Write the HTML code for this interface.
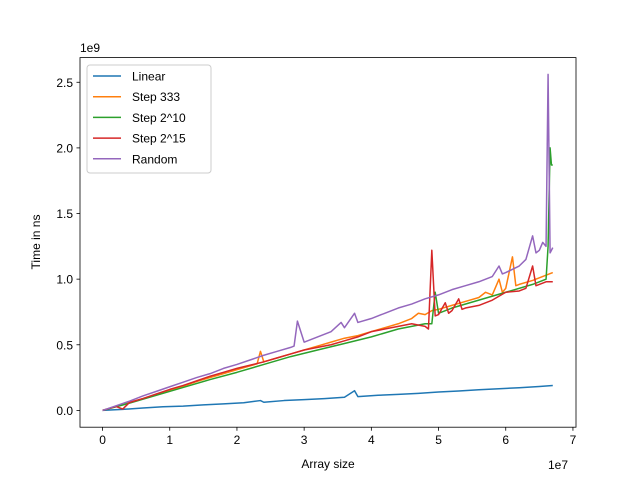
<!DOCTYPE html>
<html><head><meta charset="utf-8"><style>
body{margin:0;background:#fff}
svg{font-family:"Liberation Sans","DejaVu Sans",sans-serif}
</style></head><body>
<svg id="c" width="640" height="480" xmlns="http://www.w3.org/2000/svg">
<rect width="640" height="480" fill="#fff"/>
<g id="marks"></g>
<rect x="80" y="57.6" width="496" height="369.6" fill="none" stroke="#000" stroke-width="0.8"/>
<g id="axes" font-size="12"></g>
<text x="80" y="52" font-size="12">1e9</text>
<text x="548" y="469" font-size="12">1e7</text>
<text x="328" y="468" font-size="12" text-anchor="middle">Array size</text>
<text transform="translate(40,242) rotate(-90)" font-size="12" text-anchor="middle">Time in ns</text>
<g id="legend">
<rect x="87" y="65" width="124" height="108" rx="3" fill="#fff" fill-opacity="0.8" stroke="#ccc" stroke-width="1"/>
</g>
</svg>
<script>
const xTicks=[0,1,2,3,4,5,6,7];
const yTicks=[0,0.5,1.0,1.5,2.0,2.5];
const yTickLabels=["0.0","0.5","1.0","1.5","2.0","2.5"];
const seriesNames=["Linear","Step 333","Step 2^10","Step 2^15","Random"];
const colors=["#1f77b4","#ff7f0e","#2ca02c","#d62728","#9467bd"];
const linearX=[0,3,6,9,12,15,18,21,23.5,24,27,30,33,36,37.5,38,41,44,47,50,53,56,59,62,65,67];
const linearY=[0,0.008,0.018,0.028,0.033,0.042,0.05,0.058,0.075,0.062,0.075,0.082,0.09,0.1,0.15,0.105,0.115,0.122,0.13,0.14,0.148,0.157,0.165,0.173,0.182,0.19];
const step333X=[0,2,4,6,8,10,12,14,16,18,20,22,23,23.5,24,26,28,30,32,34,36,38,40,42,44,46,47,48,49,50,52,54,56,57,58,59,59.5,60,61,61.5,62,64,66,67];
const step333Y=[0,0.03,0.06,0.09,0.12,0.155,0.185,0.22,0.25,0.28,0.31,0.34,0.355,0.45,0.37,0.4,0.43,0.46,0.49,0.52,0.55,0.57,0.6,0.63,0.66,0.7,0.74,0.73,0.76,0.77,0.8,0.83,0.86,0.9,0.88,1.0,0.9,0.93,1.17,0.95,0.96,0.99,1.03,1.05];
const step1024X=[0,4,8,12,16,20,24,28,32,36,40,44,48,49,49.5,50,52,56,60,64,66,66.3,66.6,66.8,67];
const step1024Y=[0,0.055,0.115,0.175,0.235,0.29,0.35,0.41,0.46,0.51,0.56,0.62,0.66,0.66,0.9,0.74,0.78,0.84,0.9,0.96,1.0,1.25,2.0,1.87,1.87];
const step32768X=[0,2,3,4,6,8,10,12,14,16,18,20,22,24,26,28,30,32,34,36,38,40,42,44,46,48,48.5,49,49.5,50,51,51.5,52,53,53.5,54,56,58,60,62,63,64,64.5,65,66,67];
const step32768Y=[0,0.03,0.01,0.06,0.09,0.125,0.16,0.19,0.225,0.26,0.29,0.32,0.345,0.37,0.4,0.43,0.46,0.48,0.5,0.53,0.56,0.6,0.62,0.64,0.66,0.64,0.62,1.22,0.72,0.73,0.82,0.74,0.76,0.85,0.77,0.78,0.8,0.84,0.9,0.91,0.93,1.1,0.95,0.96,0.98,0.98];
const randomX=[0,2,4,6,8,10,12,14,16,18,20,22,24,26,28,28.5,29,30,32,34,35.5,36,37.5,38,40,42,44,46,48,50,52,54,56,58,59,59.5,60,62,63,64,64.5,65,65.5,66,66.3,66.6,67];
const randomY=[0,0.035,0.07,0.11,0.145,0.18,0.215,0.25,0.28,0.32,0.35,0.385,0.42,0.45,0.48,0.49,0.68,0.52,0.56,0.6,0.67,0.63,0.74,0.67,0.7,0.74,0.78,0.81,0.85,0.88,0.92,0.95,0.98,1.02,1.1,1.04,1.05,1.1,1.15,1.33,1.2,1.22,1.28,1.25,2.56,1.2,1.24];

const NS="http://www.w3.org/2000/svg";
const X0=80,X1=576,Y0=427.2,Y1=57.6;
const xmin=-3.355,xmax=70.455,ymin=-0.128,ymax=2.688;
function sx(v){return X0+(v-xmin)/(xmax-xmin)*(X1-X0);}
function sy(v){return Y0-(v-ymin)/(ymax-ymin)*(Y0-Y1);}
function mk(t,a){const e=document.createElementNS(NS,t);for(const k in a)e.setAttribute(k,a[k]);return e;}
const marks=document.getElementById('marks');
const allX=[linearX,step333X,step1024X,step32768X,randomX];
const allY=[linearY,step333Y,step1024Y,step32768Y,randomY];
const keys=["linear","step-333","step-2-10","step-2-15","random"];
for(let s=0;s<5;s++){
  const pts=allX[s].map((x,i)=>sx(x).toFixed(2)+","+sy(allY[s][i]).toFixed(2)).join(" ");
  const p=mk('polyline',{points:pts,fill:'none',stroke:colors[s],'stroke-width':1.5,'stroke-linejoin':'round'});
  
  
  marks.appendChild(p);
}
const axes=document.getElementById('axes');
xTicks.forEach(t=>{
  const x=sx(t*10);
  const l=mk('line',{x1:x,x2:x,y1:Y0,y2:Y0+3.5,stroke:'#000','stroke-width':0.8});
  
  
  axes.appendChild(l);
  const tx=mk('text',{x:x,y:Y0+17,'text-anchor':'middle'});tx.textContent=t;
  
  
  axes.appendChild(tx);
});
yTicks.forEach((t,i)=>{
  const y=sy(t);
  const l=mk('line',{x1:X0-3.5,x2:X0,y1:y,y2:y,stroke:'#000','stroke-width':0.8});
  
  
  axes.appendChild(l);
  const tx=mk('text',{x:X0-7,y:y+4.5,'text-anchor':'end'});tx.textContent=yTickLabels[i];
  
  
  axes.appendChild(tx);
});
const lg=document.getElementById('legend');
seriesNames.forEach((n,i)=>{
  const y=76+i*20.7;
  const l=mk('line',{x1:93,x2:121,y1:y,y2:y,stroke:colors[i],'stroke-width':1.5});
  
  
  lg.appendChild(l);
  const t=mk('text',{x:132,y:y+4.5,'font-size':12});t.textContent=n;
  
  
  lg.appendChild(t);
});
</script>
</body></html>
